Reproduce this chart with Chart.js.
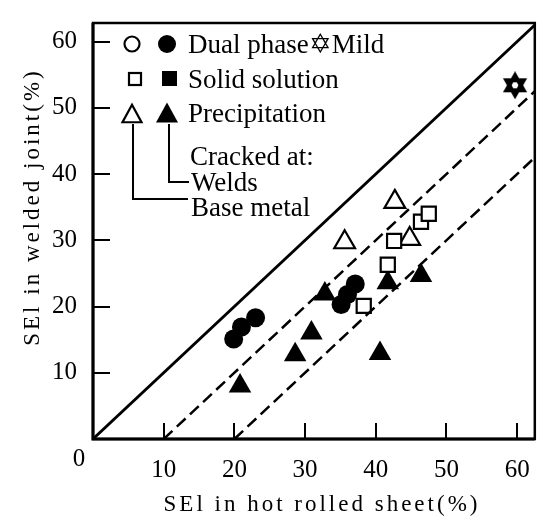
<!DOCTYPE html>
<html>
<head>
<meta charset="utf-8">
<script src="https://cdn.jsdelivr.net/npm/chart.js@4/dist/chart.umd.min.js"></script>
<style>
  html, body { margin: 0; padding: 0; background: #fff; overflow: hidden; }
  #wrap { position: relative; width: 549px; height: 523px; }
</style>
</head>
<body>
<div id="wrap"><canvas id="chart"></canvas></div>
<script>
// Datos (SEl en chapa laminada vs. SEl en la union soldada)
const xTicks = [0, 10, 20, 30, 40, 50, 60];
const yTicks = [10, 20, 30, 40, 50, 60];
const xMax = 62.5;
const yMax = 62.8;

// Lineas de referencia: y = x - desplazamiento
const refOffsets = [0, 10, 20];

// Dual phase, agrietado en la soldadura (circulos llenos)
const dualPhaseX = [19.9, 21.0, 23.0, 35.1, 36.0, 37.1];
const dualPhaseY = [15.1, 16.9, 18.3, 20.3, 21.8, 23.4];

// Solid solution, agrietado en el metal base (cuadrados vacios)
const solidX = [38.3, 41.7, 42.6, 46.4, 47.5];
const solidY = [20.1, 26.3, 29.9, 32.8, 34.0];

// Precipitation, metal base (triangulos vacios)
const precipBaseX = [35.6, 42.7, 44.8];
const precipBaseY = [29.7, 35.8, 30.2];

// Precipitation, soldadura (triangulos llenos)
const precipWeldX = [20.8, 28.6, 30.9, 32.8, 40.6, 41.7, 46.4];
const precipWeldY = [8.0, 12.7, 16.0, 21.9, 12.9, 23.6, 24.7];

// Mild (estrella)
const mildX = [59.7];
const mildY = [53.4];

const SERIF = '"Liberation Serif", "Times New Roman", serif';

function toPoints(xs, ys) {
  return xs.map((x, i) => ({ x: x, y: ys[i] }));
}

// Estrella de David como imagen para pointStyle
function makeStar(size, lw) {
  const c = document.createElement("canvas");
  c.width = size;
  c.height = size;
  const g = c.getContext("2d");
  const r = size / 2 - lw;
  const cx = size / 2;
  const cy = size / 2;
  g.strokeStyle = "#000";
  g.lineWidth = lw;
  g.lineJoin = "miter";
  [0, Math.PI].forEach((rot) => {
    g.beginPath();
    for (let k = 0; k < 3; k++) {
      const a = rot - Math.PI / 2 + (k * 2 * Math.PI) / 3;
      const px = cx + r * Math.cos(a);
      const py = cy + r * Math.sin(a);
      if (k === 0) g.moveTo(px, py);
      else g.lineTo(px, py);
    }
    g.closePath();
    g.stroke();
  });
  return c;
}

const starImg = makeStar(28, 4);

// Dibujo de texto con espaciado entre letras
function spacedText(ctx, text, x, y, spacing) {
  ctx.letterSpacing = spacing + "px";
  ctx.fillText(text, x, y);
  ctx.letterSpacing = "0px";
}

function triangle(ctx, x, y, w, filled) {
  const h = w * 0.866;
  ctx.beginPath();
  ctx.moveTo(x, y - h / 2 - 1);
  ctx.lineTo(x + w / 2, y + h / 2);
  ctx.lineTo(x - w / 2, y + h / 2);
  ctx.closePath();
  if (filled) ctx.fill();
  else ctx.stroke();
}

// Plugin: marco, marcas hacia adentro, titulos y leyenda
const decorPlugin = {
  id: "decor",
  afterDraw(chart) {
    const ctx = chart.ctx;
    const area = chart.chartArea;
    const xs = chart.scales.x;
    const ys = chart.scales.y;
    ctx.save();
    ctx.strokeStyle = "#000";
    ctx.fillStyle = "#000";

    // Marco
    ctx.lineWidth = 2.5;
    ctx.strokeRect(area.left, area.top, area.right - area.left, area.bottom - area.top);
    ctx.lineWidth = 3;
    ctx.beginPath();
    ctx.moveTo(area.left, area.top);
    ctx.lineTo(area.left, area.bottom);
    ctx.lineTo(area.right, area.bottom);
    ctx.stroke();

    // Marcas de escala hacia adentro
    ctx.lineWidth = 2;
    ctx.beginPath();
    xTicks.forEach((v) => {
      if (v === 0) return;
      const px = Math.round(xs.getPixelForValue(v));
      ctx.moveTo(px, area.bottom);
      ctx.lineTo(px, area.bottom - 16);
    });
    yTicks.forEach((v) => {
      const py = Math.round(ys.getPixelForValue(v));
      ctx.moveTo(area.left, py);
      ctx.lineTo(area.left + 17, py);
    });
    ctx.stroke();

    // Etiqueta del origen
    ctx.font = "25px " + SERIF;
    ctx.textAlign = "center";
    ctx.textBaseline = "middle";
    ctx.fillText(String(xTicks[0]), xs.getPixelForValue(0) - 14, area.bottom + 20);

    // Titulos de los ejes
    ctx.font = "23px " + SERIF;
    spacedText(ctx, "SEl in hot rolled sheet(%)", 322, 505, 3);
    ctx.save();
    ctx.translate(33, 207);
    ctx.rotate(-Math.PI / 2);
    spacedText(ctx, "SEl in welded joint(%)", 0, 0, 3);
    ctx.restore();

    // Leyenda
    ctx.lineWidth = 2.2;
    ctx.beginPath();
    ctx.arc(132, 44, 7.5, 0, Math.PI * 2);
    ctx.stroke();
    ctx.beginPath();
    ctx.arc(167, 44, 9, 0, Math.PI * 2);
    ctx.fill();
    ctx.strokeRect(129, 73, 12, 12);
    ctx.fillRect(162, 71, 15, 15);
    triangle(ctx, 132, 114, 19, false);
    triangle(ctx, 167, 113, 22, true);

    ctx.font = "27px " + SERIF;
    ctx.textAlign = "left";
    ctx.textBaseline = "alphabetic";
    ctx.fillText("Dual phase\u2721Mild", 188, 53);
    ctx.fillText("Solid solution", 188, 88);
    ctx.fillText("Precipitation", 188, 122);
    ctx.fillText("Cracked at:", 190, 165);
    ctx.fillText("Welds", 191, 191);
    ctx.fillText("Base metal", 191, 216);

    // Corchetes
    ctx.lineWidth = 2;
    ctx.beginPath();
    ctx.moveTo(169, 124);
    ctx.lineTo(169, 182);
    ctx.lineTo(189, 182);
    ctx.moveTo(133, 124);
    ctx.lineTo(133, 199);
    ctx.lineTo(188, 199);
    ctx.stroke();

    ctx.restore();
  },
};

const refDatasets = refOffsets.map((off) => ({
  type: "line",
  data: [
    { x: off, y: 0 },
    { x: xMax, y: xMax - off },
  ],
  borderColor: "#000",
  borderWidth: off === 0 ? 2.8 : 2.5,
  borderDash: off === 0 ? [] : [12, 6],
  pointRadius: 0,
  fill: false,
}));

const markerBase = {
  borderColor: "#000",
  backgroundColor: "#000",
  pointHoverRadius: 0,
};

const chart = new Chart(document.getElementById("chart"), {
  type: "scatter",
  data: {
    datasets: [
      ...refDatasets,
      {
        ...markerBase,
        label: "Dual phase",
        data: toPoints(dualPhaseX, dualPhaseY),
        pointStyle: "circle",
        pointRadius: 9.5,
        borderWidth: 0,
      },
      {
        ...markerBase,
        label: "Solid solution",
        data: toPoints(solidX, solidY),
        pointStyle: "rect",
        pointRadius: 10,
        borderWidth: 2.2,
        backgroundColor: "#fff",
      },
      {
        ...markerBase,
        label: "Precipitation (base metal)",
        data: toPoints(precipBaseX, precipBaseY),
        pointStyle: "triangle",
        pointRadius: 12,
        borderWidth: 2.2,
        backgroundColor: "#fff",
      },
      {
        ...markerBase,
        label: "Precipitation (welds)",
        data: toPoints(precipWeldX, precipWeldY),
        pointStyle: "triangle",
        pointRadius: 13,
        borderWidth: 0,
      },
      {
        ...markerBase,
        label: "Mild",
        data: toPoints(mildX, mildY),
        pointStyle: starImg,
        pointRadius: 12,
      },
    ],
  },
  options: {
    responsive: true,
    maintainAspectRatio: false,
    animation: false,
    layout: { padding: { top: 10, right: 4, left: 0, bottom: 0 } },
    plugins: {
      legend: { display: false },
      tooltip: { enabled: false },
    },
    scales: {
      x: {
        type: "linear",
        min: 0,
        max: xMax,
        afterBuildTicks: (s) => {
          s.ticks = xTicks.map((v) => ({ value: v }));
        },
        afterFit: (s) => {
          s.height = 84;
        },
        grid: { display: false },
        border: { display: false },
        ticks: {
          color: "#000",
          font: { family: SERIF, size: 25 },
          padding: 8,
          maxRotation: 0,
          autoSkip: false,
          callback: (v) => (v === 0 ? "" : String(v)),
        },
      },
      y: {
        type: "linear",
        min: 0,
        max: yMax,
        afterBuildTicks: (s) => {
          s.ticks = yTicks.map((v) => ({ value: v }));
        },
        afterFit: (s) => {
          s.width = 93;
        },
        grid: { display: false },
        border: { display: false },
        ticks: {
          color: "#000",
          font: { family: SERIF, size: 25 },
          padding: 8,
          autoSkip: false,
          callback: (v) => String(v),
        },
      },
    },
  },
  plugins: [decorPlugin],
});
</script>
</body>
</html>
